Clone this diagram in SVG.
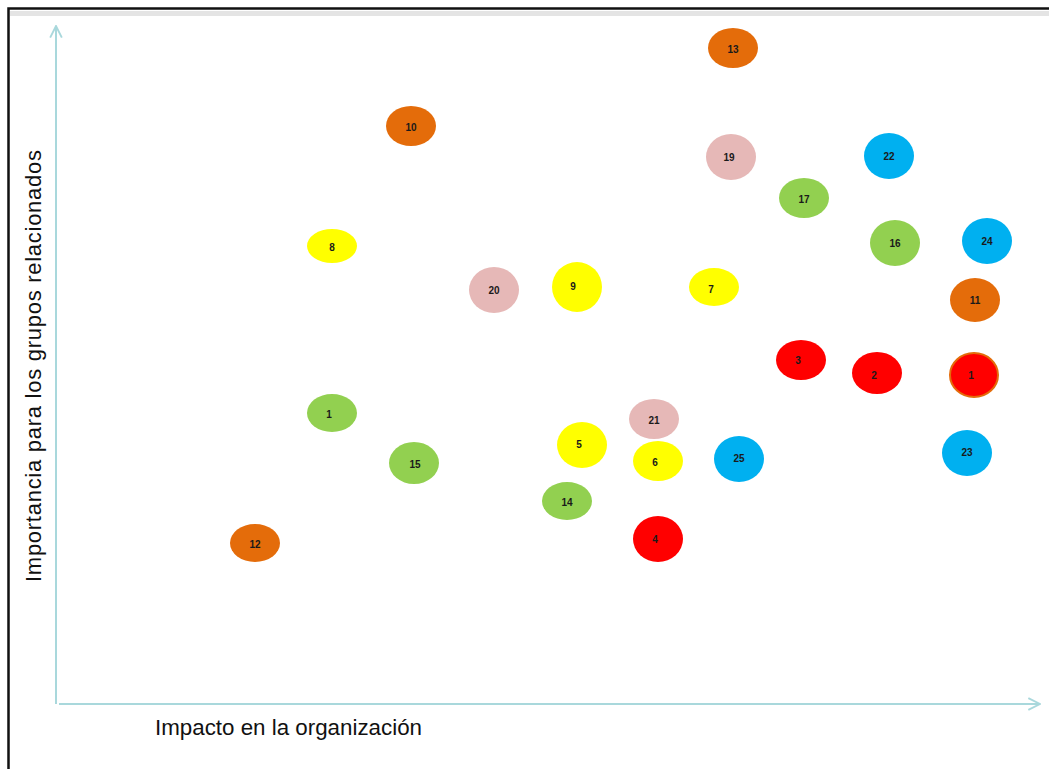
<svg xmlns="http://www.w3.org/2000/svg" width="1049" height="769" viewBox="0 0 1049 769">
<defs>
<style>
.o{fill:#e46c0a}.p{fill:#e6b8b7}.b{fill:#00b0f0}.g{fill:#92d050}.y{fill:#ffff00}.r{fill:#ff0000}
.n text{font-family:"Liberation Sans",Arial,sans-serif;font-size:10px;font-weight:bold;fill:#1a1a1a;text-anchor:middle;dominant-baseline:central}
.ax{stroke:#a9d8dc;stroke-width:2;fill:none}
.lbl{font-family:"Liberation Sans",Arial,sans-serif;font-size:22px;fill:#111}
</style>
<marker id="ah" viewBox="0 0 12 12" refX="11" refY="6" markerWidth="14" markerHeight="14" markerUnits="userSpaceOnUse" orient="auto">
<path d="M1,1 L11,6 L1,11" fill="none" stroke="#a9d8dc" stroke-width="1.6"/>
</marker>
</defs>
<rect width="1049" height="769" fill="#fff"/>
<rect x="10" y="11" width="1039" height="5" fill="#e4e4e4"/>
<path d="M8.5,769 V8.5 H1049" fill="none" stroke="#111" stroke-width="2.5"/>
<g id="connectors">
<path class="ax" d="M56,704 V26" marker-end="url(#ah)"/>
<path class="ax" d="M59,704 H1040" marker-end="url(#ah)"/>
</g>
<text class="lbl" x="155" y="735" textLength="267" lengthAdjust="spacingAndGlyphs">Impacto en la organización</text>
<text class="lbl" transform="translate(41,582) rotate(-90)" textLength="432" lengthAdjust="spacing">Importancia para los grupos relacionados</text>
<g class="n">
<g id="n13"><ellipse class="o" cx="733" cy="48" rx="25" ry="20"/><text x="733" y="49">13</text></g>
<g id="n10"><ellipse class="o" cx="411" cy="126" rx="25" ry="20"/><text x="411" y="127">10</text></g>
<g id="n19"><ellipse class="p" cx="731" cy="157" rx="25" ry="23"/><text x="729" y="157">19</text></g>
<g id="n22"><ellipse class="b" cx="889" cy="156" rx="25" ry="23"/><text x="889" y="156">22</text></g>
<g id="n17"><ellipse class="g" cx="804" cy="198" rx="25" ry="20"/><text x="804" y="199">17</text></g>
<g id="n8"><ellipse class="y" cx="332" cy="246" rx="25" ry="17"/><text x="332" y="247">8</text></g>
<g id="n16"><ellipse class="g" cx="895" cy="243" rx="25" ry="23"/><text x="895" y="243">16</text></g>
<g id="n24"><ellipse class="b" cx="987" cy="241" rx="25" ry="23"/><text x="987" y="241">24</text></g>
<g id="n20"><ellipse class="p" cx="494" cy="290" rx="25" ry="23"/><text x="494" y="290">20</text></g>
<g id="n9"><ellipse class="y" cx="577" cy="287" rx="25" ry="25"/><text x="573" y="286">9</text></g>
<g id="n7"><ellipse class="y" cx="714" cy="287" rx="25" ry="19"/><text x="711" y="289">7</text></g>
<g id="n11"><ellipse class="o" cx="975" cy="300" rx="25" ry="22"/><text x="975" y="300">11</text></g>
<g id="n3"><ellipse class="r" cx="801" cy="360" rx="25" ry="20"/><text x="798" y="360">3</text></g>
<g id="n2"><ellipse class="r" cx="877" cy="373" rx="25" ry="21"/><text x="874" y="375">2</text></g>
<g id="n1a"><ellipse class="r" cx="974" cy="375" rx="24" ry="22" stroke="#e46c0a" stroke-width="2"/><text x="971" y="375">1</text></g>
<g id="n1b"><ellipse class="g" cx="332" cy="413" rx="25" ry="19"/><text x="329" y="414">1</text></g>
<g id="n21"><ellipse class="p" cx="654" cy="419" rx="25" ry="20"/><text x="654" y="420">21</text></g>
<g id="n5"><ellipse class="y" cx="582" cy="445" rx="25" ry="23"/><text x="579" y="444">5</text></g>
<g id="n6"><ellipse class="y" cx="658" cy="461" rx="25" ry="20"/><text x="655" y="462">6</text></g>
<g id="n25"><ellipse class="b" cx="739" cy="459" rx="25" ry="23"/><text x="739" y="458">25</text></g>
<g id="n15"><ellipse class="g" cx="414" cy="463" rx="25" ry="21"/><text x="415" y="464">15</text></g>
<g id="n23"><ellipse class="b" cx="967" cy="453" rx="25" ry="23"/><text x="967" y="452">23</text></g>
<g id="n14"><ellipse class="g" cx="567" cy="501" rx="25" ry="19"/><text x="567" y="502">14</text></g>
<g id="n12"><ellipse class="o" cx="255" cy="543" rx="25" ry="19"/><text x="255" y="544">12</text></g>
<g id="n4"><ellipse class="r" cx="658" cy="539" rx="25" ry="23"/><text x="655" y="539">4</text></g>
</g>
</svg>
